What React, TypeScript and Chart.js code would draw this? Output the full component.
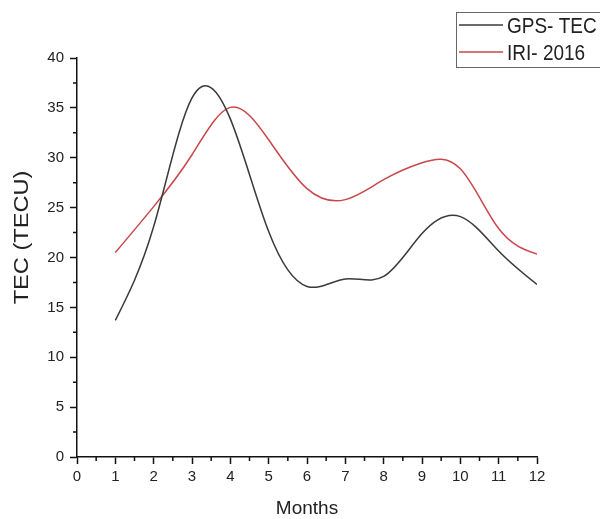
import React, { useEffect, useRef } from "react";
import { Chart, registerables } from "chart.js";

Chart.register(...registerables);

const months = [1, 2, 3, 4, 5, 6, 7, 8, 9, 10, 11, 12];
const gpsTec = [13.7, 23.1, 36.0, 33.9, 22.6, 17.1, 17.85, 18.1, 22.4, 24.1, 20.65, 17.3];
const iri2016 = [20.5, 25.1, 30.3, 35.05, 31.8, 26.9, 25.8, 27.8, 29.5, 28.9, 22.9, 20.35];
const xTicks = [0, 1, 2, 3, 4, 5, 6, 7, 8, 9, 10, 11, 12];
const yTicks = [0, 5, 10, 15, 20, 25, 30, 35, 40];
const seriesLabels = ["GPS- TEC", "IRI- 2016"];
const seriesColors = ["#3a3a3a", "#c9474a"];
const xTitle = "Months";
const yTitle = "TEC (TECU)";

const FONT = "'Liberation Sans', Arial, Helvetica, sans-serif";

// Natural cubic spline through the points the line controller placed via the scales.
const naturalSpline = {
  id: "naturalSpline",
  beforeDatasetDraw(chart: any, args: any) {
    const meta = args.meta;
    const line = meta.dataset;
    const pts = meta.data;
    const n = pts.length - 1;
    if (!line || n < 2) return;
    const xs = pts.map((p: any) => p.x);
    const ys = pts.map((p: any) => p.y);
    const h: number[] = [];
    for (let i = 0; i < n; i++) h.push(xs[i + 1] - xs[i]);
    const M = new Array(n + 1).fill(0);
    const a: number[] = [], b: number[] = [], c: number[] = [], d: number[] = [];
    for (let i = 1; i < n; i++) {
      a.push(h[i - 1]);
      b.push(2 * (h[i - 1] + h[i]));
      c.push(h[i]);
      d.push(6 * ((ys[i + 1] - ys[i]) / h[i] - (ys[i] - ys[i - 1]) / h[i - 1]));
    }
    const m = b.length;
    for (let i = 1; i < m; i++) {
      const w = a[i] / b[i - 1];
      b[i] -= w * c[i - 1];
      d[i] -= w * d[i - 1];
    }
    const sol = new Array(m).fill(0);
    sol[m - 1] = d[m - 1] / b[m - 1];
    for (let i = m - 2; i >= 0; i--) sol[i] = (d[i] - c[i] * sol[i + 1]) / b[i];
    for (let i = 1; i < n; i++) M[i] = sol[i - 1];
    const deriv: number[] = [];
    for (let i = 0; i < n; i++) {
      deriv.push((ys[i + 1] - ys[i]) / h[i] - (h[i] * (2 * M[i] + M[i + 1])) / 6);
    }
    deriv.push((ys[n] - ys[n - 1]) / h[n - 1] + (h[n - 1] * (M[n - 1] + 2 * M[n])) / 6);
    for (let i = 0; i <= n; i++) {
      const p = pts[i];
      const hl = i > 0 ? h[i - 1] : h[0];
      const hr = i < n ? h[i] : h[n - 1];
      p.cp1x = xs[i] - hl / 3;
      p.cp1y = ys[i] - (deriv[i] * hl) / 3;
      p.cp2x = xs[i] + hr / 3;
      p.cp2y = ys[i] + (deriv[i] * hr) / 3;
    }
    line._pointsUpdated = true;
    line._path = undefined;
  },
};

const minorTicks = {
  id: "minorTicks",
  afterDraw(chart: any) {
    const ctx = chart.ctx;
    const xs = chart.scales.x;
    const ys = chart.scales.y;
    ctx.save();
    ctx.strokeStyle = "#111";
    ctx.lineWidth = 1.5;
    ctx.beginPath();
    for (let i = 0; i < xTicks.length - 1; i++) {
      const v = (xTicks[i] + xTicks[i + 1]) / 2;
      const px = xs.getPixelForValue(v);
      ctx.moveTo(px, ys.bottom);
      ctx.lineTo(px, ys.bottom + 4);
    }
    for (let i = 0; i < yTicks.length - 1; i++) {
      const v = (yTicks[i] + yTicks[i + 1]) / 2;
      const py = ys.getPixelForValue(v);
      ctx.moveTo(xs.left, py);
      ctx.lineTo(xs.left - 4, py);
    }
    ctx.stroke();
    ctx.restore();
  },
};

const yTitlePlugin = {
  id: "yTitleStretched",
  afterDraw(chart: any) {
    const ctx = chart.ctx;
    const ys = chart.scales.y;
    ctx.save();
    ctx.translate(22, (ys.top + ys.bottom) / 2 - 20);
    ctx.rotate(-Math.PI / 2);
    ctx.scale(1.18, 1);
    ctx.font = `20px ${FONT}`;
    ctx.fillStyle = "#222";
    ctx.textAlign = "center";
    ctx.textBaseline = "middle";
    ctx.fillText(yTitle, 0, 0);
    ctx.restore();
  },
};

const boxLegend = {
  id: "boxLegend",
  afterDraw(chart: any) {
    const ctx = chart.ctx;
    ctx.save();
    ctx.strokeStyle = "#666";
    ctx.lineWidth = 1;
    ctx.strokeRect(456.5, 12.5, 200, 55);
    const rows = [25, 52];
    chart.data.datasets.forEach((ds: any, i: number) => {
      const y = rows[i];
      ctx.strokeStyle = ds.borderColor;
      ctx.lineWidth = 1.5;
      ctx.beginPath();
      ctx.moveTo(459, y);
      ctx.lineTo(503, y);
      ctx.stroke();
      ctx.save();
      ctx.translate(507, y + 2);
      ctx.scale(1, 1.12);
      ctx.font = `19px ${FONT}`;
      ctx.fillStyle = "#222";
      ctx.textAlign = "left";
      ctx.textBaseline = "middle";
      ctx.fillText(ds.label, 0, 0);
      ctx.restore();
    });
    ctx.restore();
  },
};

export default function App() {
  const ref = useRef<HTMLCanvasElement | null>(null);

  useEffect(() => {
    if (!ref.current) return;
    const chart = new Chart(ref.current, {
      type: "line",
      data: {
        datasets: [
          {
            label: seriesLabels[0],
            data: months.map((m, i) => ({ x: m, y: gpsTec[i] })),
            borderColor: seriesColors[0],
            backgroundColor: seriesColors[0],
            borderWidth: 1.5,
            pointRadius: 0,
            tension: 0.4,
            fill: false,
          },
          {
            label: seriesLabels[1],
            data: months.map((m, i) => ({ x: m, y: iri2016[i] })),
            borderColor: seriesColors[1],
            backgroundColor: seriesColors[1],
            borderWidth: 1.5,
            pointRadius: 0,
            tension: 0.4,
            fill: false,
          },
        ],
      },
      options: {
        responsive: false,
        animation: false,
        devicePixelRatio: 1,
        layout: { padding: { left: 0, top: 58, right: 63, bottom: 0 } },
        plugins: {
          legend: { display: false },
          tooltip: { enabled: false },
        },
        scales: {
          x: {
            type: "linear",
            min: 0,
            max: 12,
            afterBuildTicks: (s: any) => {
              s.ticks = xTicks.map((v) => ({ value: v }));
            },
            afterFit: (s: any) => {
              s.height = 62;
            },
            ticks: {
              color: "#222",
              font: { family: FONT, size: 15 },
              padding: 4,
              maxRotation: 0,
              autoSkip: false,
            },
            grid: {
              drawOnChartArea: false,
              drawTicks: true,
              tickLength: 7,
              tickWidth: 1.5,
              tickColor: "#111",
            },
            border: { display: true, color: "#111", width: 1.5 },
            title: {
              display: true,
              text: xTitle,
              color: "#222",
              font: { family: FONT, size: 19 },
              padding: { top: 0, bottom: -1 },
            },
          },
          y: {
            type: "linear",
            min: 0,
            max: 40,
            afterBuildTicks: (s: any) => {
              s.ticks = yTicks.map((v) => ({ value: v }));
            },
            afterFit: (s: any) => {
              s.width = 77;
            },
            ticks: {
              color: "#222",
              font: { family: FONT, size: 15 },
              padding: 6,
              autoSkip: false,
            },
            grid: {
              drawOnChartArea: false,
              drawTicks: true,
              tickLength: 7,
              tickWidth: 1.5,
              tickColor: "#111",
            },
            border: { display: true, color: "#111", width: 1.5 },
            title: { display: false },
          },
        },
      },
      plugins: [naturalSpline, minorTicks, yTitlePlugin, boxLegend],
    });
    return () => chart.destroy();
  }, []);

  return (
    <div style={{ position: "fixed", left: 0, top: 0, width: 600, height: 519, background: "#fff" }}>
      <canvas ref={ref} width={600} height={519} style={{ display: "block" }} />
    </div>
  );
}
